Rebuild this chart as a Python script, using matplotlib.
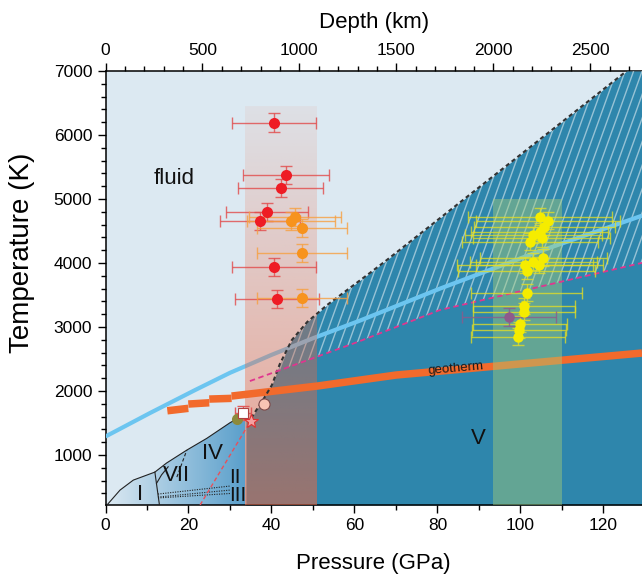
import numpy as np
import matplotlib
matplotlib.use('Agg')
import matplotlib.pyplot as plt
from matplotlib.patches import Polygon
from matplotlib.collections import LineCollection
from matplotlib.colors import LinearSegmentedColormap, to_rgb
from matplotlib.ticker import MultipleLocator

plt.rcParams['font.family'] = ['Liberation Sans', 'DejaVu Sans']

# ---------------- data ----------------
P_MIN, P_MAX = 0, 129.3
T_MIN, T_MAX = 220, 7000
KM_PER_GPA = 21.4

# ice melting curve (ice region upper boundary)
melt_P = [0.36, 3.5, 6.7, 11.9, 14.7, 19.6, 24.4, 30.0, 31.6, 33.7]
melt_T = [220, 453, 609, 734, 875, 1078, 1261, 1505, 1563, 1600]
# ice I / VII boundary
ice17_P = [11.9, 13.0]
ice17_T = [734, 220]
# small solid boundary near VII
ice7a_P = [12.3, 13.5, 15.1]
ice7a_T = [558, 690, 817]
# dashed VII/IV boundary
ice74_P = [17.2, 19.6]
ice74_T = [656, 1078]
# dotted II/III boundaries
iceA_P = [12.65, 30.0]
iceA_T = [391, 516]
iceB_P = [12.65, 30.0]
iceB_T = [344, 453]
iceC_P = [12.65, 30.0]
iceC_T = [330, 400]

# superionic (dark region) upper boundary
sup_P = [33.7, 35.1, 37.95, 40.1, 42.0, 44.9, 48.6, 53.4, 63.7, 67.8, 125.6, 129.3]
sup_T = [1540, 1578, 1859, 2094, 2420, 2797, 3078, 3344, 3844, 4047, 7000, 7200]
# magenta dashed boundary
mag_P = [34.8, 60.9, 80.6, 128.8, 129.3]
mag_T = [2156, 2770, 3266, 3995, 4003]
# red dashed line in ice
red_P = [22.8, 35.0]
red_T = [220, 1536]
# light-blue curve
blue_P = [0, 10.7, 21.6, 30.0, 40.0, 50.0, 61.3, 80.6, 104.0, 129.3]
blue_T = [1290, 1656, 2016, 2285, 2565, 2825, 3100, 3600, 4170, 4740]
# geotherm
geo_seg_P = [[14.9, 19.95], [19.95, 25.0], [25.0, 30.4]]
geo_seg_T = [[1692, 1730], [1797, 1817], [1875, 1886]]
geo_P = [30.4, 51.0, 70.0, 129.3]
geo_T = [1922, 2078, 2250, 2594]

# shaded pressure ranges
red_band_P = (33.7, 51.0)
red_band_T = (T_MIN, 6450)
green_band_P = (93.3, 110.1)
green_band_T = (T_MIN, 5000)

# red data points
red_pts_P = [40.67, 43.5, 42.2, 39.0, 37.2, 40.67, 41.25]
red_pts_T = [6192, 5375, 5177, 4792, 4656, 3933, 3433]
red_pts_xerr = [10.1, 10.4, 10.2, 9.9, 9.6, 10.1, 10.1]
red_pts_yerr = [145, 145, 140, 140, 140, 140, 140]
# orange data points
org_pts_P = [45.66, 44.6, 47.3, 47.3, 47.3]
org_pts_T = [4714, 4661, 4542, 4161, 3448]
org_pts_xerr = [11.0, 10.6, 10.9, 10.9, 10.9]
org_pts_yerr = [140, 140, 140, 140, 140]
# yellow data points
yel_P = [104.7, 106.7, 105.7, 104.7, 103.1, 105.1, 102.3, 105.5, 103.1,
         101.1, 104.5, 101.5, 101.5, 100.9, 100.9, 99.9, 99.7, 99.5]
yel_T = [4723, 4661, 4567, 4489, 4438, 4386, 4333, 4083, 4020,
         3969, 3969, 3880, 3536, 3328, 3239, 3047, 2953, 2848]
yel_xerr = [17.3, 17.3, 17.0, 16.5, 16.5, 16.5, 16.5, 15.3, 15.3,
            16.5, 15.3, 16.5, 13.3, 12.3, 12.3, 11.3, 11.3, 11.3]
yel_yerr = [130] * 18
# purple point
pur_P, pur_T, pur_xerr, pur_yerr = [97.2], [3152], [11.4], [140]
# special markers near ice boundary
olive_P, olive_T = [31.6], [1563]
sq_P, sq_T, sq_xerr, sq_yerr = [33.1], [1652], [1.9], [110]
star_P, star_T = [35.0], [1536]
pink_P, pink_T = [38.2], [1797]

# labels
phase_labels = [("fluid", 16.5, 5328, 16), ("IV", 25.7, 1031, 16), ("VII", 17.2, 688, 16),
                ("II", 31.2, 655, 15), ("III", 31.9, 370, 15), ("I", 8.3, 391, 16), ("V", 89.8, 1266, 16)]

# ---------------- colours ----------------
C_FLUID = '#dce9f2'
C_DARK = '#2e86ac'
C_ICE = '#5a9fcb'

fig = plt.figure(figsize=(6.42, 5.78), dpi=100)
ax = fig.add_axes([105.5 / 642, 73 / 578, (642 - 105.5) / 642, 434 / 578])
ax.set_facecolor(C_FLUID)

grid = np.linspace(P_MIN, P_MAX, 800)
sup_interp = np.interp(grid, sup_P, sup_T)

# dark (superionic) region
m = grid >= red_band_P[0]
ax.fill_between(grid[m], T_MIN, np.minimum(sup_interp[m], T_MAX), color=C_DARK, lw=0, zorder=1)

# hatched region between boundary curve and magenta line
upper = np.minimum(sup_interp, T_MAX)
lower = np.interp(grid, mag_P, mag_T)
hm = (upper > lower) & (grid >= mag_P[0])
hx = grid[hm]
verts = np.vstack([np.column_stack([hx, upper[hm]]), np.column_stack([hx[::-1], lower[hm][::-1]])])
hpoly = Polygon(verts, closed=True, facecolor='none', edgecolor='none')
ax.add_patch(hpoly)
w_px, h_px = 536.5, 434.0
slant = 0.36 * h_px / w_px
step = 8.5 / w_px
segs = [[(x0, 0), (x0 + slant, 1)] for x0 in np.arange(-0.4, 1.05, step)]
lc = LineCollection(segs, colors='white', linewidths=1.0, alpha=0.5, transform=ax.transAxes, zorder=2)
ax.add_collection(lc)
lc.set_clip_path(hpoly)

# ice region with horizontal gradient
ice_verts = list(zip(melt_P, melt_T)) + [(melt_P[-1], T_MIN), (melt_P[0], T_MIN)]
ice_poly = Polygon(ice_verts, closed=True, facecolor='none', edgecolor='none')
ax.add_patch(ice_poly)
cmap_ice = LinearSegmentedColormap.from_list('ice', [C_FLUID, C_ICE])
im = ax.imshow(np.linspace(0, 1, 256).reshape(1, -1), cmap=cmap_ice, aspect='auto',
               extent=[0, melt_P[-1], T_MIN, max(melt_T)], origin='lower', zorder=1.5)
im.set_clip_path(ice_poly)

# ice boundaries
ax.plot(melt_P[:-1], melt_T[:-1], color='#222222', lw=0.8, zorder=3)
ax.plot(ice17_P, ice17_T, color='#222222', lw=0.8, zorder=3)
ax.plot(ice7a_P, ice7a_T, color='#222222', lw=0.8, zorder=3)
ax.plot(ice74_P, ice74_T, color='#222222', lw=0.8, ls=(0, (3, 2)), zorder=3)
for px, ty in [(iceA_P, iceA_T), (iceB_P, iceB_T), (iceC_P, iceC_T)]:
    ax.plot(px, ty, color='#222222', lw=0.8, ls=(0, (1, 1.2)), zorder=3)

# blue curve (under the red band)
ax.plot(blue_P, blue_T, color='#6cc5f0', lw=3.0, solid_capstyle='butt', solid_joinstyle='round', zorder=3)

# red band with vertical alpha gradient
nb = 256
rgba = np.zeros((nb, 1, 4))
rgba[:, 0, :3] = np.array(to_rgb('#f2663f'))
rgba[:, 0, 3] = np.linspace(0.55, 0.07, nb)
ax.imshow(rgba, aspect='auto', origin='lower',
          extent=[red_band_P[0], red_band_P[1], red_band_T[0], red_band_T[1]], zorder=4)

# geotherm
for sp, st in zip(geo_seg_P, geo_seg_T):
    ax.plot(sp, st, color='#f26a2c', lw=5.4, solid_capstyle='butt', zorder=4.5)
ax.plot(geo_P, geo_T, color='#f26a2c', lw=5.4, solid_capstyle='butt', zorder=4.5)
ax.text(84.4, 2345, 'geotherm', fontsize=9.5, color='#1a1a1a', rotation=5,
        ha='center', va='center', zorder=6)

# green band
ax.fill_between(green_band_P, green_band_T[0], green_band_T[1], color='#a5cd78', alpha=0.45, lw=0, zorder=5)

# boundaries on top
ax.plot(sup_P[1:-1], sup_T[1:-1], color='#333333', lw=1.5, ls=(0, (2, 1.5)), zorder=6)
ax.plot(mag_P, mag_T, color='#e0358f', lw=1.3, ls=(0, (3, 2)), zorder=6)
ax.plot(red_P, red_T, color='#e8505a', lw=1.0, ls=(0, (3, 2)), zorder=6)

# data points
eb_kw = dict(fmt='none', elinewidth=1.0, capsize=4, capthick=1.0, zorder=7)
ax.errorbar(red_pts_P, red_pts_T, xerr=red_pts_xerr, yerr=red_pts_yerr, ecolor='#e24a4a', alpha=0.8, **eb_kw)
ax.errorbar(org_pts_P, org_pts_T, xerr=org_pts_xerr, yerr=org_pts_yerr, ecolor='#f7a040', alpha=0.8, **eb_kw)
ax.errorbar(yel_P, yel_T, xerr=yel_xerr, yerr=yel_yerr, ecolor='#e8e020', alpha=0.75, **eb_kw)
ax.errorbar(pur_P, pur_T, xerr=pur_xerr, yerr=pur_yerr, ecolor='#8e5a8c', alpha=0.8, **eb_kw)
ax.errorbar(sq_P, sq_T, xerr=sq_xerr, yerr=sq_yerr, ecolor='#e05a5a', **eb_kw)
ax.plot(red_pts_P, red_pts_T, 'o', color='#ee1c25', ms=8, mew=0, zorder=8)
ax.plot(org_pts_P, org_pts_T, 'o', color='#f7931e', ms=8, mew=0, zorder=8)
ax.plot(yel_P, yel_T, 'o', color='#f5ec00', ms=7.5, mew=0, zorder=8)
ax.plot(pur_P, pur_T, 'o', color='#8e5a8c', ms=7.5, mew=0, zorder=8)
ax.plot(olive_P, olive_T, 'o', color='#8c8a3c', ms=8, mew=0, zorder=8)
ax.plot(sq_P, sq_T, 's', mfc='white', mec='#b04040', ms=6.5, mew=0.8, zorder=8)
ax.plot(star_P, star_T, '*', mfc='#f5a0a0', mec='#e03030', ms=10, mew=0.8, zorder=8)
ax.plot(pink_P, pink_T, 'o', mfc='#f9c4b4', mec='#7d4a4a', ms=8, mew=0.8, zorder=8)

for txt, px, ty, fs in phase_labels:
    ax.text(px, ty, txt, fontsize=fs, ha='center', va='center', color='#111111', zorder=9)

# axes
ax.set_xlim(P_MIN, P_MAX)
ax.set_ylim(T_MIN, T_MAX)
ax.xaxis.set_major_locator(MultipleLocator(20))
ax.xaxis.set_minor_locator(MultipleLocator(10))
ax.yaxis.set_minor_locator(MultipleLocator(200))
ax.set_yticks(range(1000, 7001, 1000))
ax.tick_params(which='major', direction='out', length=6, width=1, labelsize=12.5)
ax.tick_params(which='minor', direction='out', length=3.5, width=1)
ax.spines['right'].set_visible(False)
ax.spines['top'].set_visible(False)
for s in ['left', 'bottom']:
    ax.spines[s].set_linewidth(1.1)
ax.set_xlabel('Pressure (GPa)', fontsize=16, labelpad=14)
ax.set_ylabel('Temperature (K)', fontsize=20)
ax.yaxis.set_label_coords(-0.132, 0.58)

sec = ax.secondary_xaxis('top', functions=(lambda p: p * KM_PER_GPA, lambda d: d / KM_PER_GPA))
sec.xaxis.set_major_locator(MultipleLocator(500))
sec.xaxis.set_minor_locator(MultipleLocator(100))
sec.tick_params(which='major', direction='out', length=6, width=1, labelsize=12.5)
sec.tick_params(which='minor', direction='out', length=3.5, width=1)
sec.spines['top'].set_linewidth(1.1)
sec.set_xlabel('Depth (km)', fontsize=16, labelpad=11)

fig.savefig('out.png', dpi=100)
